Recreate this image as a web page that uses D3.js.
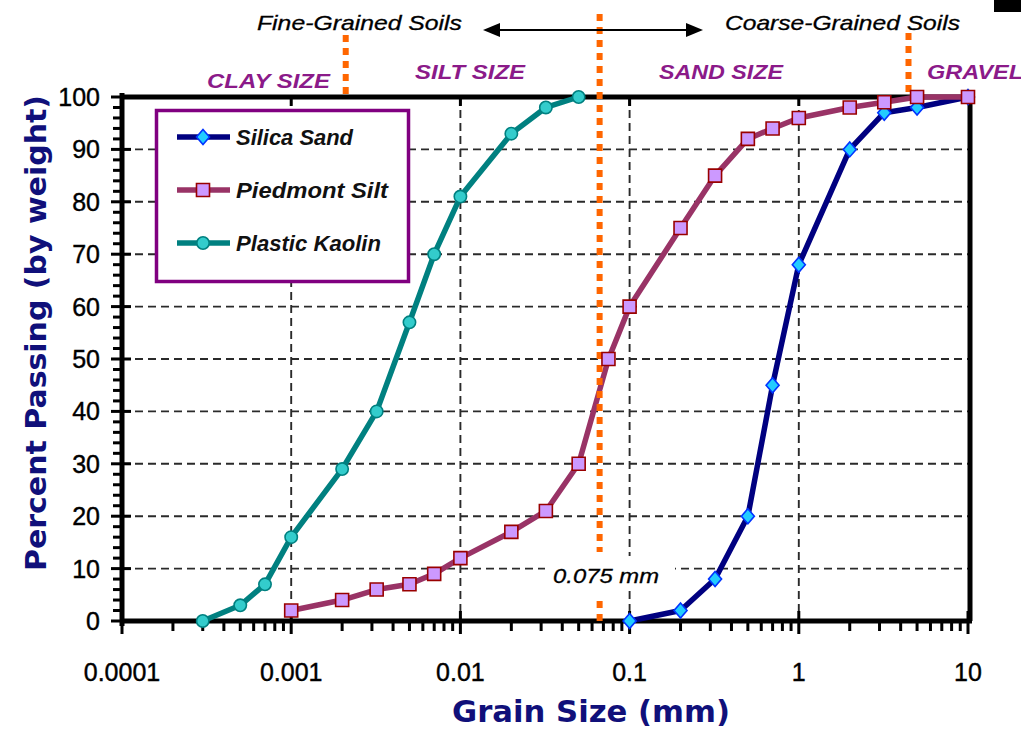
<!DOCTYPE html>
<html lang="en">
<head>
<meta charset="UTF-8">
<title>Grain Size Distribution</title>
<script src="https://d3js.org/d3.v7.min.js"></script>
<style>
    body { margin: 0; background: #fff; }
    svg { display: block; }
    text { font-family: "Liberation Sans", Arial, sans-serif; }
    .grid line { stroke: #2a2a2a; stroke-width: 1.9; stroke-dasharray: 8,5; }
    .axis-line { stroke: #000; stroke-width: 5; fill: none; }
    .tick { stroke: #000; stroke-width: 3; }
    .tick-label { font-size: 25px; fill: #000; stroke: #000; stroke-width: 0.4; }
    .size-label { font-size: 21px; font-weight: bold; font-style: italic; fill: #8b1a89; }
    .soil-label { font-size: 21px; font-style: italic; fill: #000; stroke: #000; stroke-width: 0.3; }
    .axis-title { font-family: "Comic Sans MS", "DejaVu Sans", sans-serif; font-weight: bold; fill: #10107a; }
    .boundary { stroke: #ff6600; stroke-width: 6; stroke-dasharray: 7,6; fill: none; }
    .legend-text { font-size: 22px; font-style: italic; font-weight: bold; fill: #111; }
</style>
</head>
<body>
<script>
    const width = 1021;
    const height = 733;

    // grain size (mm) and percent passing
    const silicaSize = [0.1, 0.2, 0.32, 0.5, 0.7, 1, 2, 3.2, 5, 10];
    const silicaPass = [0, 2, 8, 20, 45, 68, 90, 97, 98, 100];

    const piedmontSize = [0.001, 0.002, 0.0032, 0.005, 0.007, 0.01, 0.02, 0.032, 0.05, 0.075,
                          0.1, 0.2, 0.32, 0.5, 0.7, 1, 2, 3.2, 5, 10];
    const piedmontPass = [2, 4, 6, 7, 9, 12, 17, 21, 30, 50,
                          60, 75, 85, 92, 94, 96, 98, 99, 100, 100];

    const kaolinSize = [0.0003, 0.0005, 0.0007, 0.001, 0.002, 0.0032, 0.005, 0.007, 0.01, 0.02, 0.032, 0.05];
    const kaolinPass = [0, 3, 7, 16, 29, 40, 57, 70, 81, 93, 98, 100];

    const seriesNames = ["Silica Sand", "Piedmont Silt", "Plastic Kaolin"];

    const xTickValues = [0.0001, 0.001, 0.01, 0.1, 1, 10];
    const xTickLabels = ["0.0001", "0.001", "0.01", "0.1", "1", "10"];
    const yTickValues = [0, 10, 20, 30, 40, 50, 60, 70, 80, 90, 100];

    // clay/silt, fine/coarse (0.075 mm sieve), sand/gravel boundaries as drawn
    const boundarySizes = [0.0021, 0.0665, 4.45];
    const sizeClassLabels = ["CLAY SIZE", "SILT SIZE", "SAND SIZE", "GRAVEL"];

    const x = d3.scaleLog().domain([0.0001, 10]).range([122, 968]);
    const y = d3.scaleLinear().domain([0, 100]).range([621, 97]);

    const svg = d3.select("body").append("svg").attr("width", width).attr("height", height);

    const series = [
        {name: seriesNames[0], values: silicaSize.map((s, i) => ({size: s, pass: silicaPass[i]})),
         line: "#000080", fill: "#22ccff", stroke: "#0033ff", marker: "diamond"},
        {name: seriesNames[1], values: piedmontSize.map((s, i) => ({size: s, pass: piedmontPass[i]})),
         line: "#993366", fill: "#cc99ff", stroke: "#990000", marker: "square"},
        {name: seriesNames[2], values: kaolinSize.map((s, i) => ({size: s, pass: kaolinPass[i]})),
         line: "#008080", fill: "#33cccc", stroke: "#008080", marker: "circle"}
    ];

    drawGrid(svg.append("g").attr("class", "grid"));

    // label mask over the grid for "0.075 mm"
    svg.append("rect").attr("x", 545).attr("y", 556).attr("width", 130).attr("height", 33).attr("fill", "#fff");

    drawAxes(svg.append("g").attr("class", "axes"));

    const lines = svg.append("g").attr("class", "lines");
    const line = d3.line().x(d => x(d.size)).y(d => y(d.pass));
    // piedmont drawn last so it sits over the sand curve at the top
    [series[0], series[2], series[1]].forEach(s => {
        lines.append("path")
            .attr("d", line(s.values))
            .attr("fill", "none")
            .attr("stroke", s.line)
            .attr("stroke-width", 5.5)
            .attr("stroke-linejoin", "round");
    });

    drawBoundaries(svg.append("g").attr("class", "boundaries"));

    const markers = svg.append("g").attr("class", "markers");
    [series[0], series[2], series[1]].forEach(s => {
        markers.selectAll(null)
            .data(s.values)
            .enter()
            .append("path")
            .attr("transform", d => `translate(${x(d.size)},${y(d.pass)})`)
            .attr("d", markerPath(s.marker))
            .attr("fill", s.fill)
            .attr("stroke", s.stroke)
            .attr("stroke-width", 1.6);
    });

    drawLegend(svg.append("g").attr("class", "legend"));
    drawLabels(svg.append("g").attr("class", "labels"));

    function markerPath(type) {
        if (type === "diamond") return "M0,-7.5L6.5,0L0,7.5L-6.5,0Z";
        if (type === "square") return "M-6.5,-6.5H6.5V6.5H-6.5Z";
        return d3.symbol(d3.symbolCircle, 120)();
    }

    function drawGrid(g) {
        g.selectAll("line.h")
            .data(yTickValues.filter(v => v > 0 && v < 100))
            .enter()
            .append("line")
            .attr("x1", x.range()[0]).attr("x2", x.range()[1])
            .attr("y1", d => y(d)).attr("y2", d => y(d));
        g.selectAll("line.v")
            .data(xTickValues.slice(1, -1))
            .enter()
            .append("line")
            .attr("x1", d => x(d)).attr("x2", d => x(d))
            .attr("y1", y.range()[1]).attr("y2", y.range()[0]);
    }

    function drawAxes(g) {
        const [x0, x1] = x.range();
        const [y0, y1] = y.range();

        // minor ticks first
        const minorX = x.ticks().filter(v => !xTickValues.includes(v));
        g.selectAll("line.minor-x")
            .data(minorX)
            .enter()
            .append("line").attr("class", "tick")
            .attr("x1", d => x(d)).attr("x2", d => x(d))
            .attr("y1", y0).attr("y2", y0 + 10);

        const minorY = y.ticks(50).filter(v => v % 10 !== 0);
        g.selectAll("line.minor-y")
            .data(minorY)
            .enter()
            .append("line").attr("class", "tick")
            .attr("x1", x0 - 9).attr("x2", x0)
            .attr("y1", d => y(d)).attr("y2", d => y(d));

        g.selectAll("line.major-x")
            .data(xTickValues)
            .enter()
            .append("line").attr("class", "tick")
            .attr("stroke-width", 3.5)
            .attr("x1", d => x(d)).attr("x2", d => x(d))
            .attr("y1", y0 - 10).attr("y2", y0 + 13);

        g.selectAll("line.major-top")
            .data(xTickValues.slice(1, -1))
            .enter()
            .append("line").attr("class", "tick")
            .attr("stroke-width", 2)
            .attr("x1", d => x(d)).attr("x2", d => x(d))
            .attr("y1", y1).attr("y2", y1 + 9);

        g.selectAll("line.major-y")
            .data(yTickValues)
            .enter()
            .append("line").attr("class", "tick")
            .attr("stroke-width", 4)
            .attr("x1", x0 - 11).attr("x2", x0 + 9)
            .attr("y1", d => y(d)).attr("y2", d => y(d));

        g.append("path").attr("class", "axis-line")
            .attr("d", `M${x0},${y0 + 5}V${y1 - 4}M${x0 - 2},${y1}H${x1 + 2}V${y0}M${x0 - 2},${y0}H${x1 + 4}`);

        g.selectAll("text.xl")
            .data(xTickValues)
            .enter()
            .append("text").attr("class", "tick-label")
            .attr("x", d => x(d))
            .attr("y", 681)
            .attr("text-anchor", "middle")
            .attr("font-size", 27)
            .text((d, i) => xTickLabels[i]);

        g.selectAll("text.yl")
            .data(yTickValues)
            .enter()
            .append("text").attr("class", "tick-label")
            .attr("x", 100)
            .attr("y", d => y(d) + 9)
            .attr("text-anchor", "end")
            .text(d => d);
    }

    function drawBoundaries(g) {
        const [clay, sieve, gravel] = boundarySizes;
        g.append("line").attr("class", "boundary")
            .attr("x1", x(clay)).attr("x2", x(clay)).attr("y1", 35).attr("y2", 97);
        g.append("line").attr("class", "boundary")
            .attr("x1", x(sieve)).attr("x2", x(sieve)).attr("y1", 14).attr("y2", 552);
        g.append("line").attr("class", "boundary")
            .attr("x1", x(sieve)).attr("x2", x(sieve)).attr("y1", 601).attr("y2", 626);
        g.append("line").attr("class", "boundary")
            .attr("x1", x(gravel)).attr("x2", x(gravel)).attr("y1", 33).attr("y2", 97);
    }

    function drawLegend(g) {
        g.append("rect")
            .attr("x", 156.5).attr("y", 110.5).attr("width", 252).attr("height", 171)
            .attr("fill", "#fff").attr("stroke", "#800080").attr("stroke-width", 3.5);

        const legendWidths = [117, 152, 145];
        const item = g.selectAll("g.item")
            .data(series)
            .enter()
            .append("g")
            .attr("transform", (d, i) => `translate(203,${137 + i * 53})`);

        item.append("line")
            .attr("x1", -26).attr("x2", 27)
            .attr("stroke", d => d.line).attr("stroke-width", 5.5);
        item.append("path")
            .attr("d", d => markerPath(d.marker))
            .attr("fill", d => d.fill).attr("stroke", d => d.stroke).attr("stroke-width", 1.6);
        item.append("text").attr("class", "legend-text")
            .attr("x", 33).attr("y", 8)
            .attr("textLength", (d, i) => legendWidths[i])
            .attr("lengthAdjust", "spacingAndGlyphs")
            .text(d => d.name);
    }

    function drawLabels(g) {
        // fine / coarse arrow
        g.append("line")
            .attr("x1", 495).attr("x2", 692).attr("y1", 30).attr("y2", 30)
            .attr("stroke", "#000").attr("stroke-width", 2);
        g.append("path").attr("d", "M483,30L500,23L500,37Z").attr("fill", "#000");
        g.append("path").attr("d", "M703,30L686,23L686,37Z").attr("fill", "#000");

        g.append("text").attr("class", "soil-label")
            .attr("x", 257).attr("y", 30)
            .attr("textLength", 205).attr("lengthAdjust", "spacingAndGlyphs")
            .text("Fine-Grained Soils");
        g.append("text").attr("class", "soil-label")
            .attr("x", 725).attr("y", 30)
            .attr("textLength", 235).attr("lengthAdjust", "spacingAndGlyphs")
            .text("Coarse-Grained Soils");

        const sizeLabelPos = [[207, 88, 123], [415, 79, 110], [659, 79, 124], [927, 79, 96]];
        g.selectAll("text.size")
            .data(sizeClassLabels)
            .enter()
            .append("text").attr("class", "size-label")
            .attr("x", (d, i) => sizeLabelPos[i][0])
            .attr("y", (d, i) => sizeLabelPos[i][1])
            .attr("textLength", (d, i) => sizeLabelPos[i][2])
            .attr("lengthAdjust", "spacingAndGlyphs")
            .text(d => d);

        g.append("text").attr("class", "soil-label")
            .attr("x", 553).attr("y", 583)
            .attr("font-size", 22)
            .attr("textLength", 106).attr("lengthAdjust", "spacingAndGlyphs")
            .text("0.075 mm");

        g.append("text").attr("class", "axis-title")
            .attr("x", 452).attr("y", 722)
            .attr("font-size", 30)
            .attr("textLength", 278).attr("lengthAdjust", "spacingAndGlyphs")
            .text("Grain Size (mm)");

        g.append("text").attr("class", "axis-title")
            .attr("transform", "translate(46,571) rotate(-90)")
            .attr("font-size", 28)
            .attr("textLength", 476).attr("lengthAdjust", "spacingAndGlyphs")
            .text("Percent Passing (by weight)");

        g.append("rect").attr("x", 994).attr("y", 0).attr("width", 27).attr("height", 12).attr("fill", "#000");
    }
</script>
</body>
</html>
